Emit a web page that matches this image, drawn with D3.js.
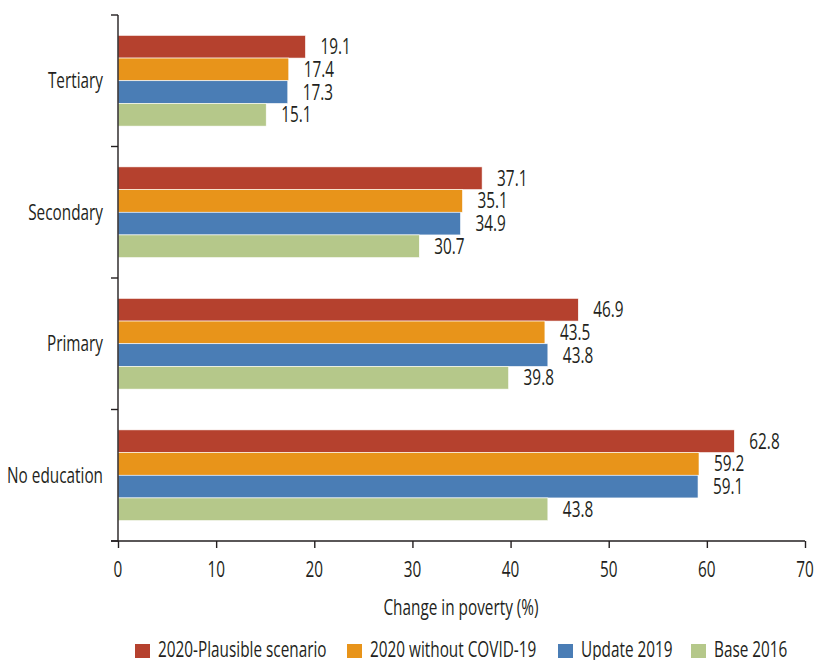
<!DOCTYPE html>
<html><head><meta charset="utf-8">
<script src="https://cdn.jsdelivr.net/npm/d3@7"></script>
<style>
body{margin:0;background:#fff;}
text{font-family:"Open Sans","Noto Sans",sans-serif;font-size:21px;fill:#231f20;}
</style></head>
<body><svg id="c" width="814" height="660"></svg>
<script>
const categories = ["Tertiary","Secondary","Primary","No education"];
const seriesNames = ["2020-Plausible scenario","2020 without COVID-19","Update 2019","Base 2016"];
const plausible2020 = [19.1, 37.1, 46.9, 62.8];
const withoutCovid2020 = [17.4, 35.1, 43.5, 59.2];
const update2019 = [17.3, 34.9, 43.8, 59.1];
const base2016 = [15.1, 30.7, 39.8, 43.8];
const xTicks = [0,10,20,30,40,50,60,70];
const colors = ["#b5412e","#e8941a","#4a7db5","#b5c88a"];

(function(){
const series = [plausible2020, withoutCovid2020, update2019, base2016];
const svg = d3.select("#c");
const ink = "#231f20";
const mLeft = 118, mRight = 805, mTop = 15, mBottom = 541;

// condensed-text factor: match the narrow typeface width of the original
const probe = svg.append("text").text("No education");
const k = 96 / probe.node().getComputedTextLength();
probe.remove();

function label(parent, x, y, str, anchor){
  const g = parent.append("g").attr("transform",`translate(${x},${y}) scale(${k},1)`);
  g.append("text").attr("text-anchor",anchor||"start").attr("dy","0.36em").text(str);
  return g;
}

const x = d3.scaleLinear().domain([0,70]).range([mLeft,mRight]);
const y = d3.scaleBand().domain(categories).range([mTop,mBottom]).paddingInner(0.31).paddingOuter(0.155);
const ySub = d3.scaleBand().domain(d3.range(series.length)).range([0,y.bandwidth()]);

const g = svg.append("g");
categories.forEach((c,ci)=>{
  series.forEach((s,si)=>{
    const yy = y(c)+ySub(si);
    g.append("rect").attr("x",x(0)).attr("y",yy).attr("width",x(s[ci])-x(0)).attr("height",ySub.bandwidth())
      .attr("fill",colors[si]).attr("stroke","#fff").attr("stroke-width",0.6);
    label(g, x(s[ci])+15, yy+ySub.bandwidth()/2, s[ci].toFixed(1), "start");
  });
});

// y axis
const step = (mBottom-mTop)/categories.length;
svg.append("line").attr("x1",mLeft).attr("x2",mLeft).attr("y1",mTop).attr("y2",mBottom).attr("stroke",ink).attr("stroke-width",1.4);
d3.range(categories.length+1).forEach(i=>{
  svg.append("line").attr("x1",mLeft-7).attr("x2",mLeft).attr("y1",mTop+i*step).attr("y2",mTop+i*step).attr("stroke",ink).attr("stroke-width",1.4);
});
categories.forEach(c=>{
  label(svg, 103, y(c)+y.bandwidth()/2, c, "end");
});

// x axis
const xa = svg.append("g").attr("transform",`translate(0,${mBottom})`)
  .call(d3.axisBottom(x).tickValues(xTicks).tickSize(7).tickPadding(0).tickFormat(d3.format("d")));
xa.select(".domain").attr("d",`M${mLeft-7},0H${mRight}`).attr("stroke",ink).attr("stroke-width",1.4);
xa.selectAll(".tick line").attr("stroke",ink).attr("stroke-width",1.4);
xa.selectAll(".tick text").remove();
xTicks.forEach(t=>{ label(svg, x(t), 569, String(t), "middle"); });

label(svg, 461, 607, "Change in poverty (%)", "middle");

// legend
const legX = [135, 347, 558, 691];
seriesNames.forEach((n,i)=>{
  svg.append("rect").attr("x",legX[i]).attr("y",644).attr("width",15).attr("height",14).attr("fill",colors[i]);
  label(svg, legX[i]+23, 649.5, n, "start");
});
})();
</script></body></html>
